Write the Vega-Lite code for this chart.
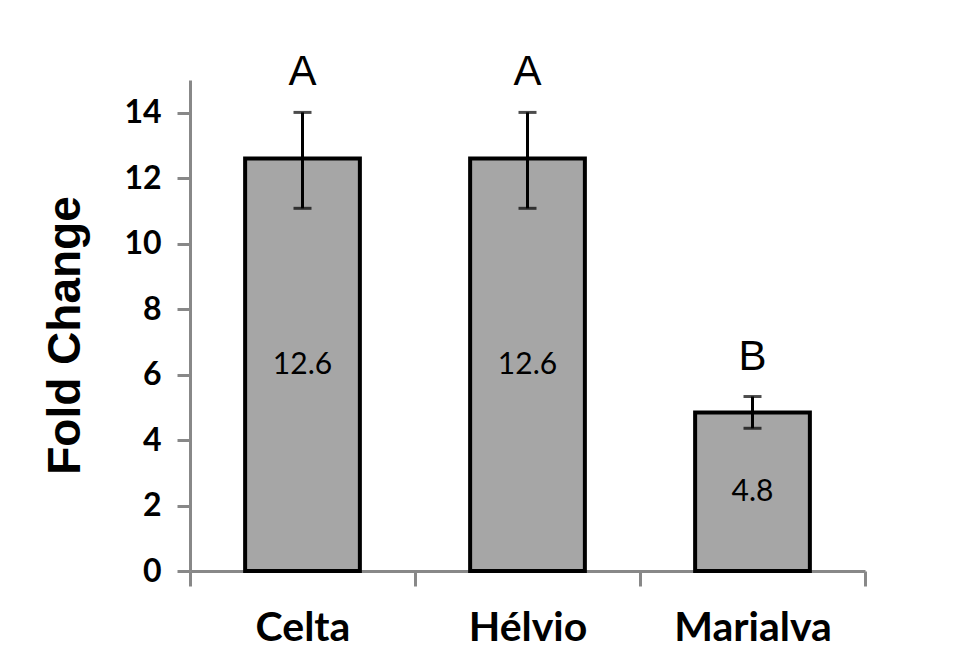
{
  "$schema": "https://vega.github.io/schema/vega-lite/v6.json",
  "autosize": "none",
  "width": 675,
  "height": 491,
  "padding": {"left": 190, "top": 80, "right": 94, "bottom": 97},
  "background": "white",
  "config": {"view": {"stroke": null}},
  "data": {
    "values": [
      {"cultivar": "Celta", "fold": 12.6, "lo": 11.08, "hi": 14.01, "letter": "A"},
      {"cultivar": "Hélvio", "fold": 12.6, "lo": 11.08, "hi": 14.01, "letter": "A"},
      {"cultivar": "Marialva", "fold": 4.84, "lo": 4.36, "hi": 5.33, "letter": "B"}
    ]
  },
  "resolve": {"scale": {"y": "independent"}},
  "layer": [
    {
      "encoding": {
        "x": {
          "field": "cultivar", "type": "nominal", "sort": null,
          "scale": {"paddingInner": 0, "paddingOuter": 0},
          "axis": {
            "title": null, "labelAngle": 0, "tickBand": "extent",
            "domainColor": "#888888", "domainWidth": 3,
            "tickColor": "#888888", "tickWidth": 3, "tickSize": 15,
            "labelFont": "Lato", "labelFontWeight": "bold", "labelFontSize": 41,
            "labelColor": "black", "labelPadding": 22
          }
        }
      },
      "layer": [
        {
          "mark": {"type": "bar", "fill": "#a6a6a6", "stroke": "black", "strokeWidth": 4, "width": {"band": 0.51}},
          "encoding": {
            "y": {
              "field": "fold", "type": "quantitative",
              "scale": {"domain": [0, 15], "nice": false},
              "axis": {
                "title": "Fold Change", "values": [0, 2, 4, 6, 8, 10, 12, 14],
                "grid": false,
                "domainColor": "#888888", "domainWidth": 3,
                "tickColor": "#888888", "tickWidth": 3, "tickSize": 13,
                "labelFont": "Lato", "labelFontWeight": "bold", "labelFontSize": 32,
                "labelColor": "black", "labelPadding": 16,
                "titleFont": "Liberation Sans", "titleFontWeight": "bold", "titleFontSize": 46,
                "titleColor": "black", "titleX": -125, "titleY": 255,
                "titleAngle": -90, "titleAlign": "center", "titleBaseline": "middle"
              }
            }
          }
        },
        {
          "mark": {"type": "rule", "color": "black", "strokeWidth": 3},
          "encoding": {
            "y": {"field": "lo", "type": "quantitative"},
            "y2": {"field": "hi"}
          }
        },
        {
          "mark": {"type": "tick", "color": "black", "thickness": 3, "size": 18, "orient": "horizontal"},
          "encoding": {"y": {"field": "lo", "type": "quantitative"}}
        },
        {
          "mark": {"type": "tick", "color": "black", "thickness": 3, "size": 18, "orient": "horizontal"},
          "encoding": {"y": {"field": "hi", "type": "quantitative"}}
        },
        {
          "mark": {"type": "text", "font": "Liberation Sans", "fontSize": 42, "color": "black", "baseline": "middle", "dy": -40},
          "encoding": {
            "y": {"field": "hi", "type": "quantitative"},
            "text": {"field": "letter"}
          }
        }
      ]
    },
    {
      "mark": {"type": "text", "font": "Lato", "fontSize": 30, "color": "black", "baseline": "middle"},
      "encoding": {
        "x": {"field": "cultivar", "type": "nominal", "sort": null},
        "y": {
          "field": "fold", "type": "quantitative",
          "scale": {"domain": [0, 30], "nice": false}, "axis": null
        },
        "text": {"field": "fold", "format": ".1f"}
      }
    }
  ]
}
